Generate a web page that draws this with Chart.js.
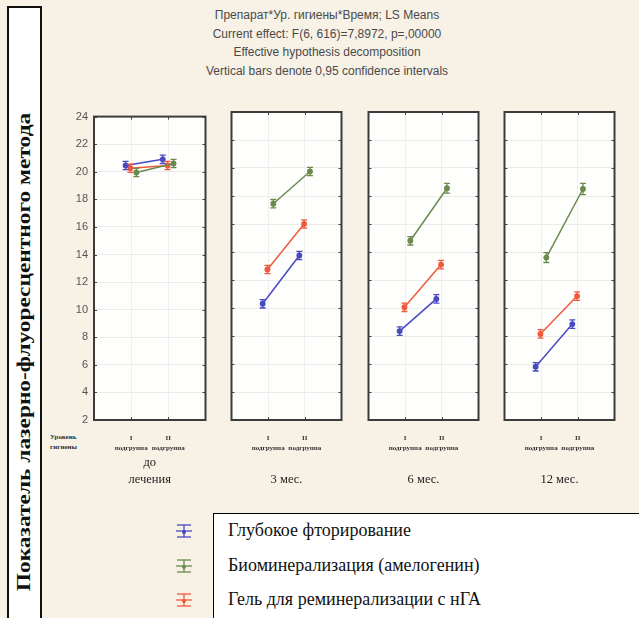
<!DOCTYPE html>
<html>
<head>
<meta charset="utf-8">
<script src="https://cdn.jsdelivr.net/npm/chart.js@4.4.1/dist/chart.umd.min.js"></script>
<style>
  html, body { margin: 0; padding: 0; }
  body { width: 639px; height: 618px; background: #f7f1e6; position: relative; overflow: hidden; font-family: 'Liberation Sans', Arial, sans-serif; }
  #leftbox { position: absolute; left: 7px; top: 6px; width: 31px; height: 640px; background: #fff; border: 2px solid #111; }
  #ylabel { position: absolute; left: 24px; top: 352px; transform: translate(-50%, -50%) rotate(-90deg) scaleX(1.3); white-space: nowrap;
            font-family: 'Liberation Serif', 'Times New Roman', serif; font-weight: bold; font-size: 18px; color: #111; }
  #title { position: absolute; left: 127px; width: 400px; top: 6px; text-align: center; white-space: nowrap;
           font-size: 12px; line-height: 18.7px; color: #4a4a4a; }
  canvas { position: absolute; }
  #hyg { position: absolute; left: 50px; top: 433px; font-family: 'Liberation Serif', serif; font-weight: bold; font-size: 7px; line-height: 9.8px; color: #333; }
  #legend { position: absolute; left: 213px; top: 513px; width: 440px; height: 130px; background: #fff; border: 1.5px solid #000; }
  .lg { position: absolute; left: 14px; font-family: 'Liberation Serif', 'Times New Roman', serif; font-size: 18px; color: #111; white-space: nowrap; }
  .ic { position: absolute; left: 175px; }
</style>
</head>
<body>
<div id="leftbox"></div>
<div id="ylabel">Показатель лазерно-флуоресцентного метода</div>
<div id="title"></div>
<div id="hyg">Уровень<br>гигиены</div>
<div id="legend"></div>
<div id="icons"></div>
<script>
// ---- data ----
const titleLines = [
  'Препарат*Ур. гигиены*Время; LS Means',
  'Current effect: F(6, 616)=7,8972, p=,00000',
  'Effective hypothesis decomposition',
  'Vertical bars denote 0,95 confidence intervals'
];
const periods = [['до', 'лечения'], ['3 мес.'], ['6 мес.'], ['12 мес.']];
const subgroups = [['I', 'подгруппа'], ['II', 'подгруппа']];
const seriesNames = ['Глубокое фторирование', 'Биоминерализация (амелогенин)', 'Гель для реминерализации с нГА'];
const seriesColors = ['#4a4ac0', '#6b8a4e', '#ee5a3c'];
const yMin = 2, yMax = 24, yStep = 2;

// means per period: [I подгруппа, II подгруппа]
const glubokoeFtor   = [[20.45, 20.9], [10.3, 13.75], [8.35, 10.65], [5.8, 8.85]];
const biomineral     = [[19.95, 20.6], [17.45, 19.75], [14.8, 18.55], [13.6, 18.5]];
const gelRemineral   = [[20.25, 20.45], [12.75, 16.0], [10.05, 13.1], [8.15, 10.85]];
// 95% CI half-widths
const glubokoeFtorErr = [[0.3, 0.3], [0.3, 0.3], [0.3, 0.3], [0.3, 0.3]];
const biomineralErr   = [[0.3, 0.3], [0.3, 0.3], [0.3, 0.35], [0.35, 0.4]];
const gelRemineralErr = [[0.3, 0.3], [0.3, 0.3], [0.3, 0.3], [0.3, 0.3]];

const seriesValues = [glubokoeFtor, biomineral, gelRemineral];
const seriesErrors = [glubokoeFtorErr, biomineralErr, gelRemineralErr];
const dodge = [-0.15, 0.14, -0.02];

// ---- header / legend ----
const t = document.getElementById('title');
titleLines.forEach(s => { const d = document.createElement('div'); d.textContent = s; t.appendChild(d); });
const lg = document.getElementById('legend');
const ic = document.getElementById('icons');
seriesNames.forEach((n, i) => {
  const d = document.createElement('div'); d.className = 'lg'; d.textContent = n;
  d.style.top = (6 + i * 34.5) + 'px'; lg.appendChild(d);
  const c = seriesColors[i];
  const y = 523 + i * 34.5;
  const s = document.createElementNS('http://www.w3.org/2000/svg', 'svg');
  s.setAttribute('width', '18'); s.setAttribute('height', '16'); s.setAttribute('class', 'ic');
  s.style.top = y + 'px';
  s.innerHTML = `<g stroke="${c}" stroke-width="1.3" fill="none">
    <line x1="2" y1="2" x2="16" y2="2"/><line x1="2" y1="14" x2="16" y2="14"/>
    <line x1="1" y1="8" x2="17" y2="8"/><line x1="9" y1="2" x2="9" y2="14"/></g>
    <circle cx="9" cy="9" r="2" fill="${c}"/>`;
  ic.appendChild(s);
});

// ---- plugins ----
const panelPlugin = {
  id: 'panelPlugin',
  beforeDraw(chart) {
    const a = chart.chartArea, ctx = chart.ctx;
    ctx.save(); ctx.fillStyle = '#fefefd'; ctx.fillRect(a.left, a.top, a.right - a.left, a.bottom - a.top); ctx.restore();
  },
  afterDatasetsDraw(chart) {
    const ctx = chart.ctx, ys = chart.scales.y;
    ctx.save();
    chart.data.datasets.forEach((ds, di) => {
      const meta = chart.getDatasetMeta(di);
      ctx.strokeStyle = ds.borderColor; ctx.lineWidth = 1.3;
      meta.data.forEach((pt, i) => {
        const e = ds.errors[i], v = ds.data[i].y;
        const y1 = ys.getPixelForValue(v - e), y2 = ys.getPixelForValue(v + e);
        ctx.beginPath();
        ctx.moveTo(pt.x, y1); ctx.lineTo(pt.x, y2);
        ctx.moveTo(pt.x - 3, y1); ctx.lineTo(pt.x + 3, y1);
        ctx.moveTo(pt.x - 3, y2); ctx.lineTo(pt.x + 3, y2);
        ctx.stroke();
      });
    });
    ctx.restore();
  },
  afterDraw(chart) {
    const a = chart.chartArea, ctx = chart.ctx;
    const ys = chart.scales.y, xs = chart.scales.x;
    ctx.save();
    ctx.strokeStyle = '#444'; ctx.lineWidth = 1;
    ys.ticks.forEach(tk => {
      const y = Math.round(ys.getPixelForValue(tk.value)) + 0.5;
      ctx.beginPath(); ctx.moveTo(a.left, y); ctx.lineTo(a.left + 3, y); ctx.moveTo(a.right - 3, y); ctx.lineTo(a.right, y); ctx.stroke();
    });
    xs.ticks.forEach(tk => {
      const x = Math.round(xs.getPixelForValue(tk.value)) + 0.5;
      ctx.beginPath(); ctx.moveTo(x, a.top); ctx.lineTo(x, a.top + 3); ctx.moveTo(x, a.bottom - 3); ctx.lineTo(x, a.bottom); ctx.stroke();
    });
    ctx.strokeStyle = '#3c3c3c'; ctx.lineWidth = 2;
    ctx.strokeRect(a.left, a.top, a.right - a.left, a.bottom - a.top);
    ctx.restore();
  }
};

// ---- panels ----
const panelLefts = [94, 230, 367, 503];
const plotW = 113, plotTop = 112, plotH = 308, xAxisH = 75, padTop = 8;

periods.forEach((per, p) => {
  const first = p === 0;
  const leftExtra = first ? 50 : 4, rightExtra = 4;
  const cv = document.createElement('canvas');
  const w = leftExtra + plotW + rightExtra, h = padTop + plotH + xAxisH;
  cv.width = w; cv.height = h;
  cv.style.left = (panelLefts[p] - leftExtra) + 'px';
  cv.style.top = (plotTop - padTop) + 'px';
  document.body.appendChild(cv);

  const datasets = seriesValues.map((vals, si) => ({
    label: seriesNames[si],
    data: vals[p].map((v, k) => ({ x: k + dodge[si], y: v })),
    errors: seriesErrors[si][p],
    borderColor: seriesColors[si],
    backgroundColor: seriesColors[si],
    borderWidth: 1.5,
    pointRadius: 2.2,
    pointStyle: 'circle',
    showLine: true
  }));

  new Chart(cv, {
    type: 'scatter',
    data: { datasets },
    plugins: [panelPlugin],
    options: {
      responsive: false, animation: false, devicePixelRatio: 1,
      layout: { padding: { top: padTop, right: rightExtra, left: 0, bottom: 0 } },
      plugins: { legend: { display: false }, tooltip: { enabled: false } },
      scales: {
        x: {
          type: 'linear', min: -1, max: 2,
          afterBuildTicks: s => { s.ticks = subgroups.map((g, k) => ({ value: k })); },
          afterFit: s => { s.height = xAxisH; },
          grid: { color: '#efefef', drawTicks: false },
          border: { display: false },
          ticks: {
            padding: 13,
            font: { family: 'Liberation Serif', size: 7, weight: 'bold', lineHeight: 1.4 },
            color: '#333',
            callback: v => subgroups[v]
          },
          title: {
            display: true, text: per,
            font: { family: 'Liberation Serif', size: 12.5, lineHeight: 1.36 },
            color: '#222',
            padding: { top: 0, bottom: 6.5 }
          }
        },
        y: {
          min: yMin, max: yMax,
          afterFit: s => { s.width = leftExtra; },
          grid: { color: '#ececec', drawTicks: false },
          border: { display: false },
          ticks: {
            display: first, stepSize: yStep, padding: 6,
            font: { family: 'Liberation Sans', size: 11 },
            color: '#555'
          }
        }
      }
    }
  });
});
</script>
</body>
</html>
